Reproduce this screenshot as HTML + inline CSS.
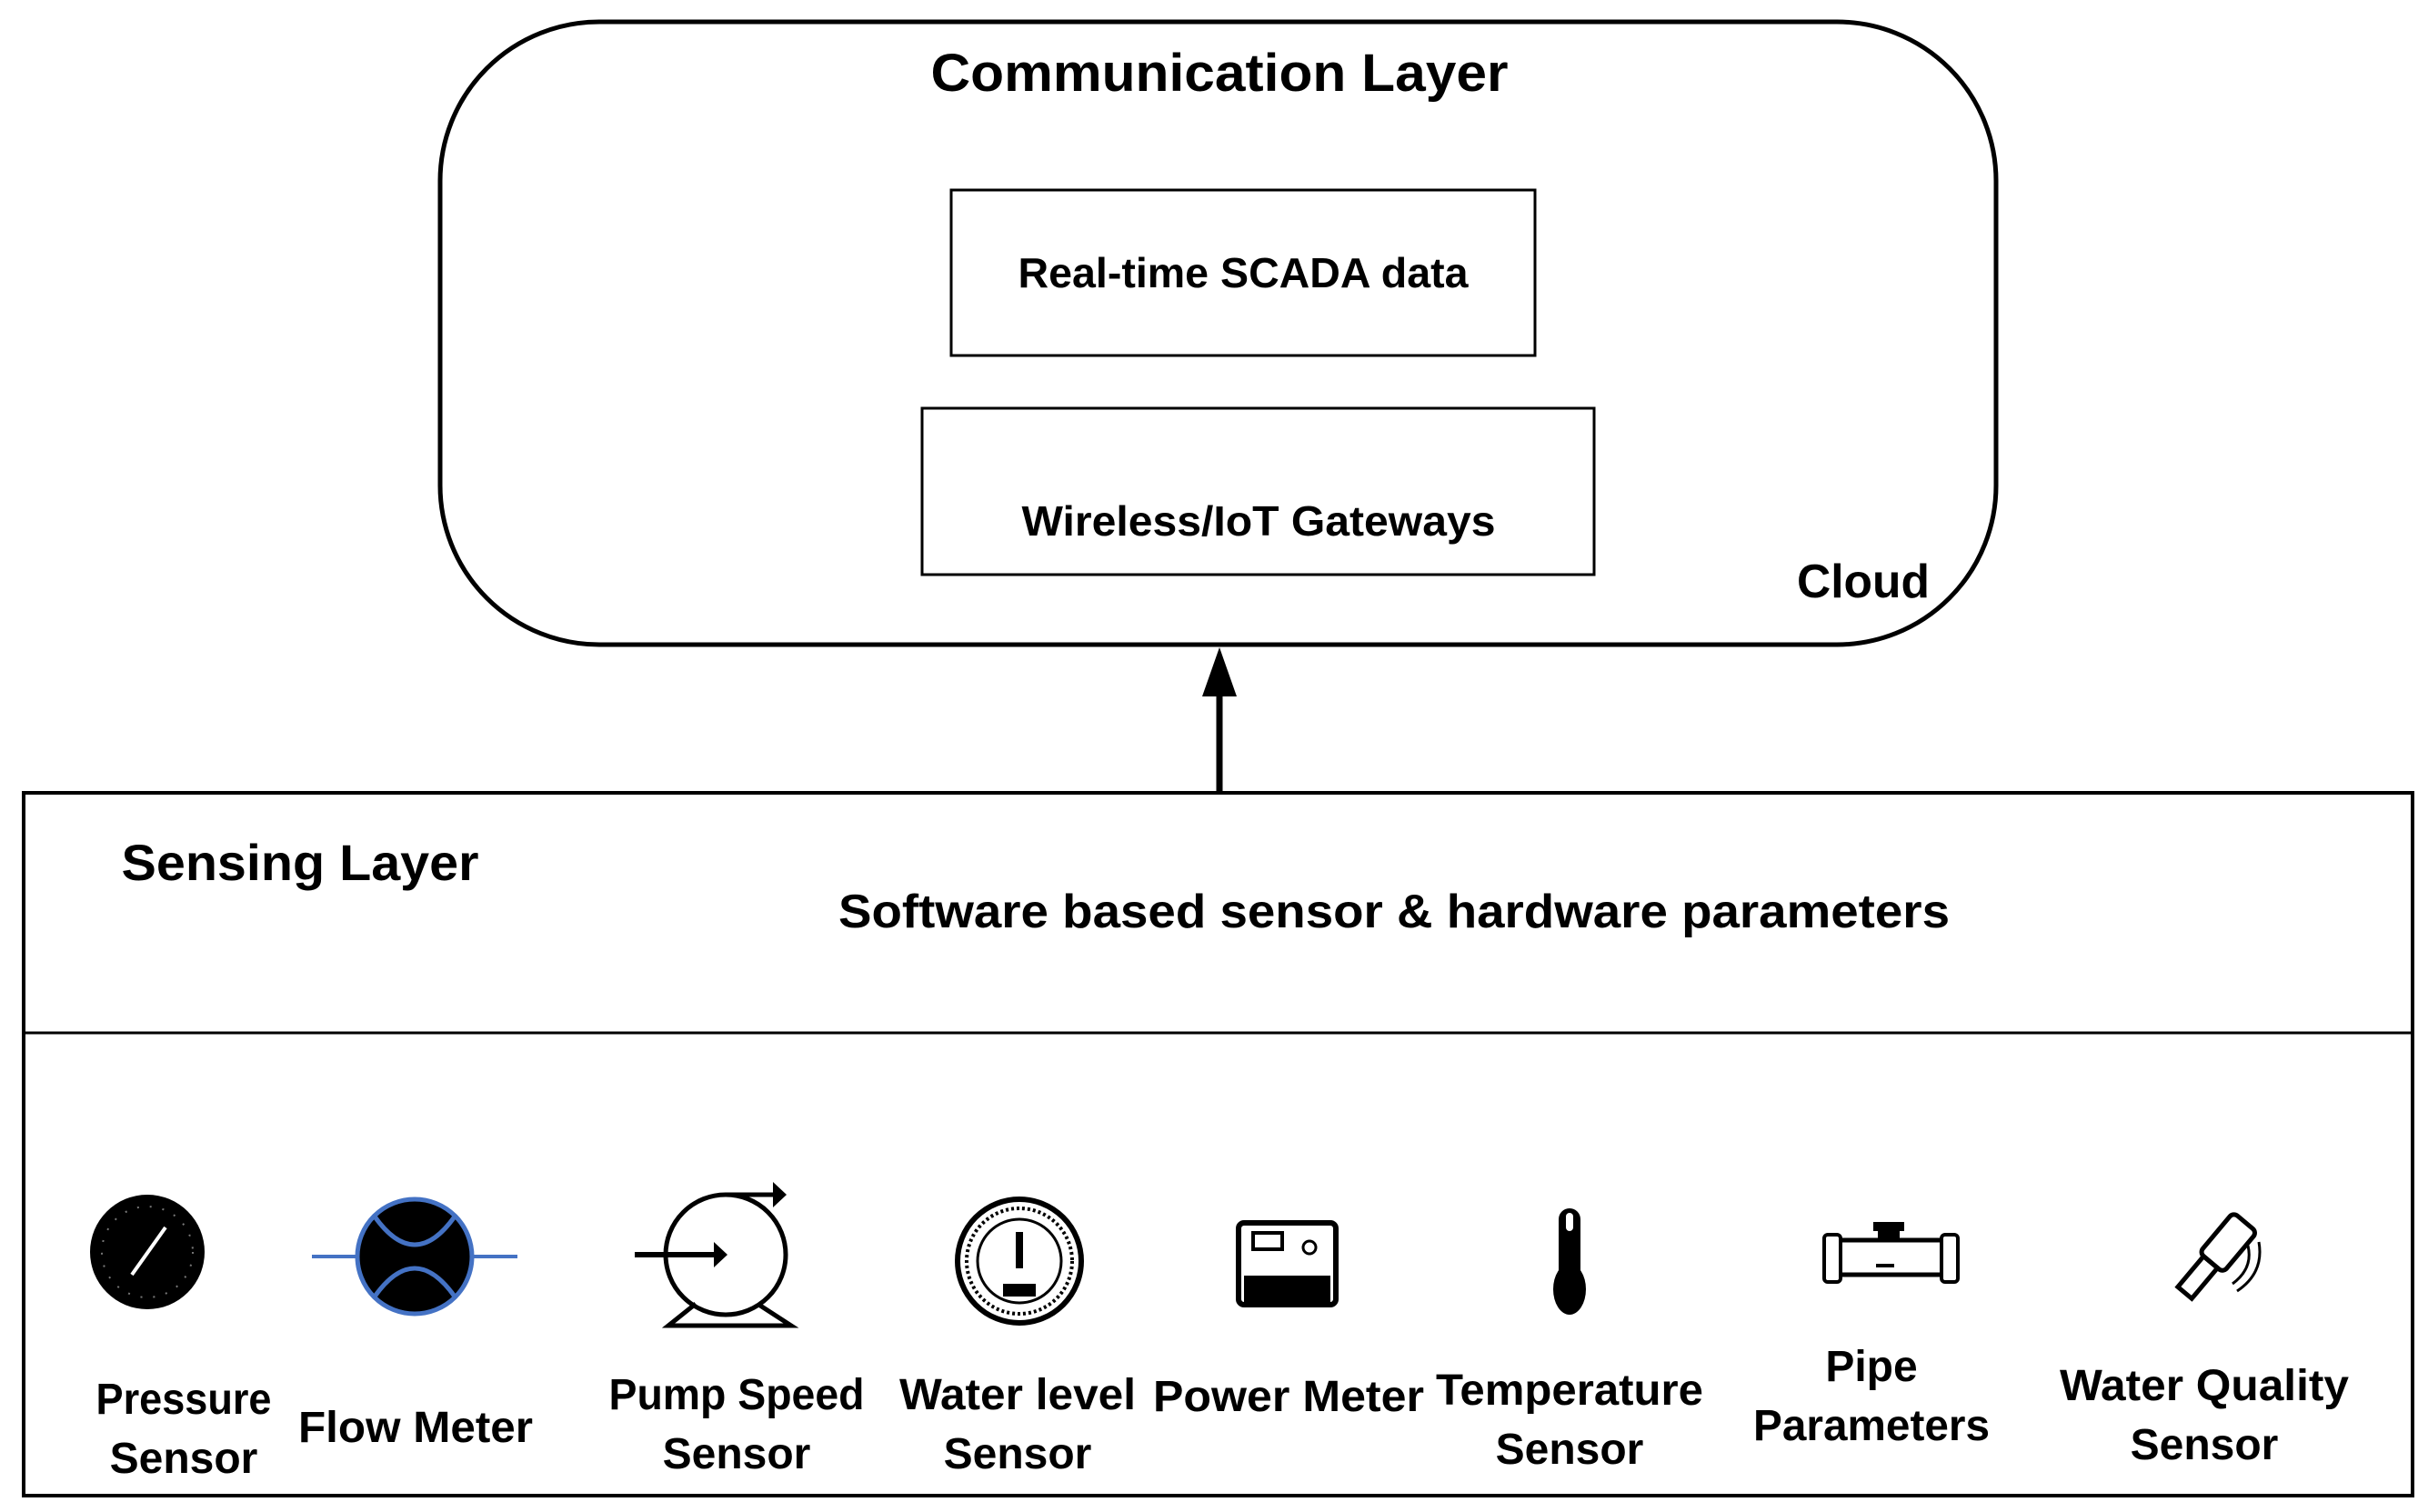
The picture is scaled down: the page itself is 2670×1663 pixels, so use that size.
<!DOCTYPE html>
<html><head><meta charset="utf-8"><style>
html,body{margin:0;padding:0;background:#fff;}
svg{display:block;}
text{font-family:"Liberation Sans",sans-serif;font-weight:bold;fill:#000;}
</style></head><body>
<svg width="2670" height="1663" viewBox="0 0 2670 1663" xmlns="http://www.w3.org/2000/svg">
<rect x="0" y="0" width="2670" height="1663" fill="#fff"/>
<rect x="484" y="24" width="1711" height="685" rx="175" ry="175" fill="none" stroke="#000" stroke-width="5"/>
<text x="1341" y="100" font-size="58" text-anchor="middle" textLength="635" lengthAdjust="spacingAndGlyphs">Communication Layer</text>
<rect x="1046" y="209" width="642" height="182" fill="none" stroke="#000" stroke-width="3"/>
<text x="1367" y="316" font-size="46" text-anchor="middle" textLength="495" lengthAdjust="spacingAndGlyphs">Real-time SCADA data</text>
<rect x="1014" y="449" width="739" height="183" fill="none" stroke="#000" stroke-width="3"/>
<text x="1384" y="589" font-size="46" text-anchor="middle" textLength="521" lengthAdjust="spacingAndGlyphs">Wireless/IoT Gateways</text>
<text x="2049" y="657" font-size="52" text-anchor="middle" textLength="146" lengthAdjust="spacingAndGlyphs">Cloud</text>
<line x1="1341" y1="871" x2="1341" y2="755" stroke="#000" stroke-width="7"/>
<polygon points="1341,712 1322,766 1360,766" fill="#000"/>
<rect x="26" y="872" width="2627" height="773" fill="none" stroke="#000" stroke-width="4"/>
<line x1="26" y1="1136" x2="2653" y2="1136" stroke="#000" stroke-width="3"/>
<text x="330" y="968" font-size="56" text-anchor="middle" textLength="393" lengthAdjust="spacingAndGlyphs">Sensing Layer</text>
<text x="1533" y="1020" font-size="52" text-anchor="middle" textLength="1222" lengthAdjust="spacingAndGlyphs">Software based sensor &amp; hardware parameters</text>
<g font-size="48" text-anchor="middle">
<text x="202" y="1555" textLength="193" lengthAdjust="spacingAndGlyphs">Pressure</text>
<text x="202" y="1620">Sensor</text>
<text x="457" y="1586" textLength="258" lengthAdjust="spacingAndGlyphs">Flow Meter</text>
<text x="810" y="1550" textLength="281" lengthAdjust="spacingAndGlyphs">Pump Speed</text>
<text x="810" y="1615">Sensor</text>
<text x="1119" y="1550" textLength="260" lengthAdjust="spacingAndGlyphs">Water level</text>
<text x="1119" y="1615">Sensor</text>
<text x="1417" y="1552" textLength="298" lengthAdjust="spacingAndGlyphs">Power Meter</text>
<text x="1726" y="1545" textLength="294" lengthAdjust="spacingAndGlyphs">Temperature</text>
<text x="1726" y="1610">Sensor</text>
<text x="2058" y="1519">Pipe</text>
<text x="2058" y="1584" textLength="260" lengthAdjust="spacingAndGlyphs">Parameters</text>
<text x="2424" y="1540" textLength="318" lengthAdjust="spacingAndGlyphs">Water Quality</text>
<text x="2424" y="1605">Sensor</text>
</g>
<circle cx="162" cy="1377" r="63" fill="#000"/>
<circle cx="162" cy="1377" r="50" fill="none" stroke="#777" stroke-width="2" stroke-dasharray="2 12"/>
<line x1="145" y1="1402" x2="182" y2="1350" stroke="#fff" stroke-width="4"/>
<line x1="343" y1="1382" x2="569" y2="1382" stroke="#4472c4" stroke-width="4"/>
<circle cx="456" cy="1382" r="63" fill="#000" stroke="#4472c4" stroke-width="5"/>
<path d="M412 1338 Q456 1400 500 1338" fill="none" stroke="#4472c4" stroke-width="5"/>
<path d="M412 1426 Q456 1364 500 1426" fill="none" stroke="#4472c4" stroke-width="5"/>
<circle cx="798" cy="1380" r="66" fill="none" stroke="#000" stroke-width="5"/>
<path d="M765 1434 L735 1458 L870 1458 L833 1434" fill="none" stroke="#000" stroke-width="5"/>
<line x1="698" y1="1380" x2="785" y2="1380" stroke="#000" stroke-width="6"/>
<polygon points="800,1380 785,1366 785,1394" fill="#000"/>
<path d="M798 1314 L850 1314" fill="none" stroke="#000" stroke-width="5"/>
<polygon points="865,1314 850,1300 850,1328" fill="#000"/>
<circle cx="1121" cy="1387" r="68" fill="none" stroke="#000" stroke-width="6"/>
<circle cx="1121" cy="1387" r="58" fill="none" stroke="#000" stroke-width="4" stroke-dasharray="3 3"/>
<circle cx="1121" cy="1387" r="46" fill="none" stroke="#000" stroke-width="3"/>
<rect x="1117" y="1355" width="8" height="40" fill="#000"/>
<rect x="1103" y="1412" width="36" height="14" fill="#000"/>
<rect x="1362" y="1345" width="107" height="90" rx="6" fill="none" stroke="#000" stroke-width="6"/>
<rect x="1378" y="1356" width="32" height="18" fill="none" stroke="#000" stroke-width="4"/>
<circle cx="1440" cy="1372" r="7" fill="none" stroke="#000" stroke-width="3"/>
<rect x="1368" y="1403" width="95" height="30" fill="#000"/>
<rect x="1714" y="1329" width="24" height="90" rx="12" fill="#000"/>
<ellipse cx="1726" cy="1418" rx="18" ry="28" fill="#000"/>
<rect x="1722" y="1334" width="8" height="20" rx="4" fill="#fff"/>
<rect x="2008" y="1364" width="142" height="38" fill="none" stroke="#000" stroke-width="5"/>
<rect x="2006" y="1358" width="18" height="52" rx="4" fill="#fff" stroke="#000" stroke-width="4"/>
<rect x="2135" y="1358" width="18" height="52" rx="4" fill="#fff" stroke="#000" stroke-width="4"/>
<rect x="2060" y="1344" width="34" height="10" fill="#000"/>
<rect x="2065" y="1354" width="24" height="12" fill="#000"/>
<line x1="2063" y1="1392" x2="2083" y2="1392" stroke="#000" stroke-width="4"/>
<g transform="rotate(40 2436 1382)" fill="none" stroke="#000" stroke-width="5">
<rect x="2420" y="1332" width="34" height="58" rx="6"/>
<rect x="2426" y="1390" width="20" height="44"/>
</g>
<path d="M2472 1370 Q2478 1395 2455 1412" fill="none" stroke="#000" stroke-width="3"/>
<path d="M2484 1366 Q2490 1400 2460 1420" fill="none" stroke="#000" stroke-width="3"/>
</svg>
</body></html>
